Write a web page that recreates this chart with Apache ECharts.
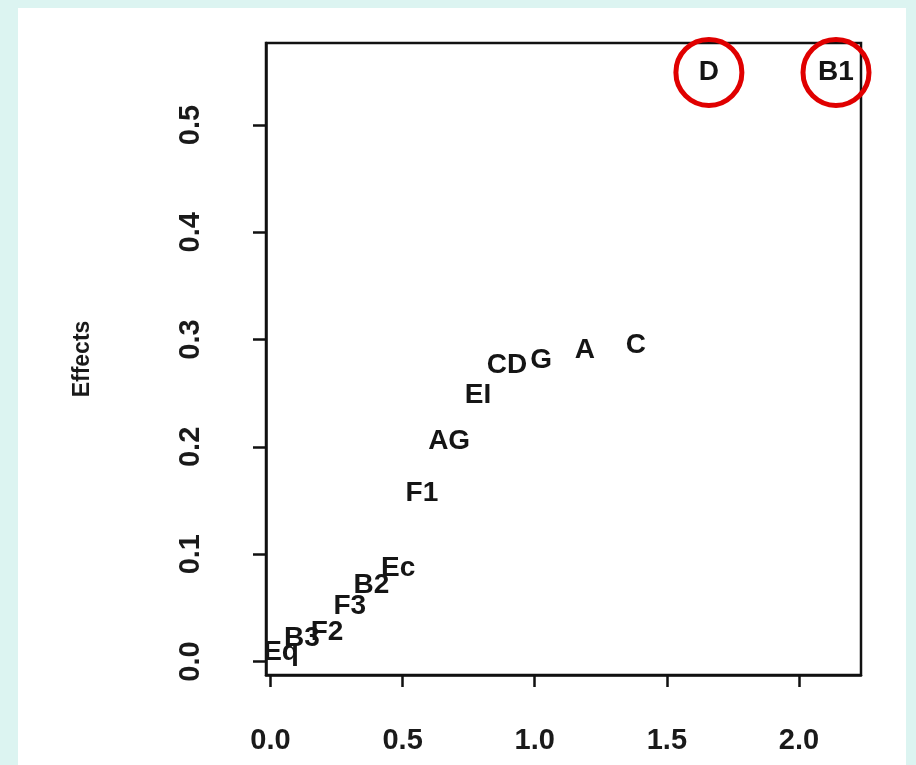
<!DOCTYPE html>
<html>
<head>
<meta charset="utf-8">
<script src="https://cdn.jsdelivr.net/npm/echarts@6/dist/echarts.min.js"></script>
<style>
html,body{margin:0;padding:0;width:916px;height:765px;background:#dcf4f1;overflow:hidden;}
#panel{position:absolute;left:18px;top:8px;width:888px;height:757px;background:#ffffff;}
#chart{position:absolute;left:0;top:0;width:916px;height:765px;}
</style>
</head>
<body>
<div id="panel"></div>
<div id="chart"></div>
<script>
// Data
const labels = ['Eq','B3','F2','F3','B2','Ec','F1','AG','EI','CD','G','A','C','D','B1'];
const xValues = [0.04,0.119,0.214,0.30,0.382,0.483,0.573,0.676,0.785,0.895,1.024,1.19,1.383,1.659,2.14];
const yValues = [0.009,0.022,0.027,0.051,0.071,0.087,0.157,0.205,0.248,0.276,0.281,0.290,0.295,0.549,0.549];
const highlighted = ['D','B1'];
const xTicks = [0, 0.5, 1.0, 1.5, 2.0];
const yTicks = [0, 0.1, 0.2, 0.3, 0.4, 0.5];
const yAxisName = 'Effects';

const points = labels.map((l, i) => ({ name: l, value: [xValues[i], yValues[i]] }));
const circled = points.filter(p => highlighted.includes(p.name));

const FONT = 'Liberation Sans, Arial, Helvetica, sans-serif';
const chart = echarts.init(document.getElementById('chart'), null, { renderer: 'canvas' });
chart.setOption({
  backgroundColor: 'transparent',
  animation: false,
  grid: { left: 266, top: 43, right: 55, bottom: 90, show: true, borderColor: '#111', borderWidth: 2.5, backgroundColor: 'transparent' },
  xAxis: {
    type: 'value', min: -0.017, max: 2.2346,
    splitLine: { show: false },
    axisLine: { show: true, onZero: false, lineStyle: { color: '#111', width: 2.5 } },
    axisTick: { show: true, length: 12, customValues: xTicks, lineStyle: { color: '#111', width: 2.5 } },
    axisLabel: { show: true, customValues: xTicks, margin: 51, fontSize: 29, fontWeight: 'bold', color: '#1a1a1a', fontFamily: FONT,
      formatter: v => v.toFixed(1) }
  },
  yAxis: {
    type: 'value', min: -0.0126, max: 0.5764,
    splitLine: { show: false },
    name: yAxisName, nameLocation: 'middle', nameRotate: 90, nameGap: 172,
    nameTextStyle: { fontSize: 23, fontWeight: 'bold', color: '#1a1a1a', fontFamily: FONT },
    axisLine: { show: true, onZero: false, lineStyle: { color: '#111', width: 2.5 } },
    axisTick: { show: true, length: 13, customValues: yTicks, lineStyle: { color: '#111', width: 2.5 } },
    axisLabel: { show: true, customValues: yTicks, rotate: 90, margin: 61, fontSize: 29, fontWeight: 'bold', color: '#1a1a1a', fontFamily: FONT,
      formatter: v => v.toFixed(1) }
  },
  series: [
    {
      type: 'scatter',
      data: points,
      symbolSize: 0,
      itemStyle: { color: '#000', opacity: 1 },
      label: {
        show: true, position: 'inside', formatter: p => p.name,
        fontSize: 28, fontWeight: 'bold', color: '#151515', fontFamily: FONT, align: 'center', verticalAlign: 'middle'
      },
      labelLayout: { hideOverlap: false },
      z: 3
    },
    {
      type: 'scatter',
      data: circled,
      symbol: 'circle',
      symbolSize: 66,
      itemStyle: { color: 'transparent', borderColor: '#e00000', borderWidth: 5, opacity: 1 },
      z: 4
    }
  ]
});
</script>
</body>
</html>
